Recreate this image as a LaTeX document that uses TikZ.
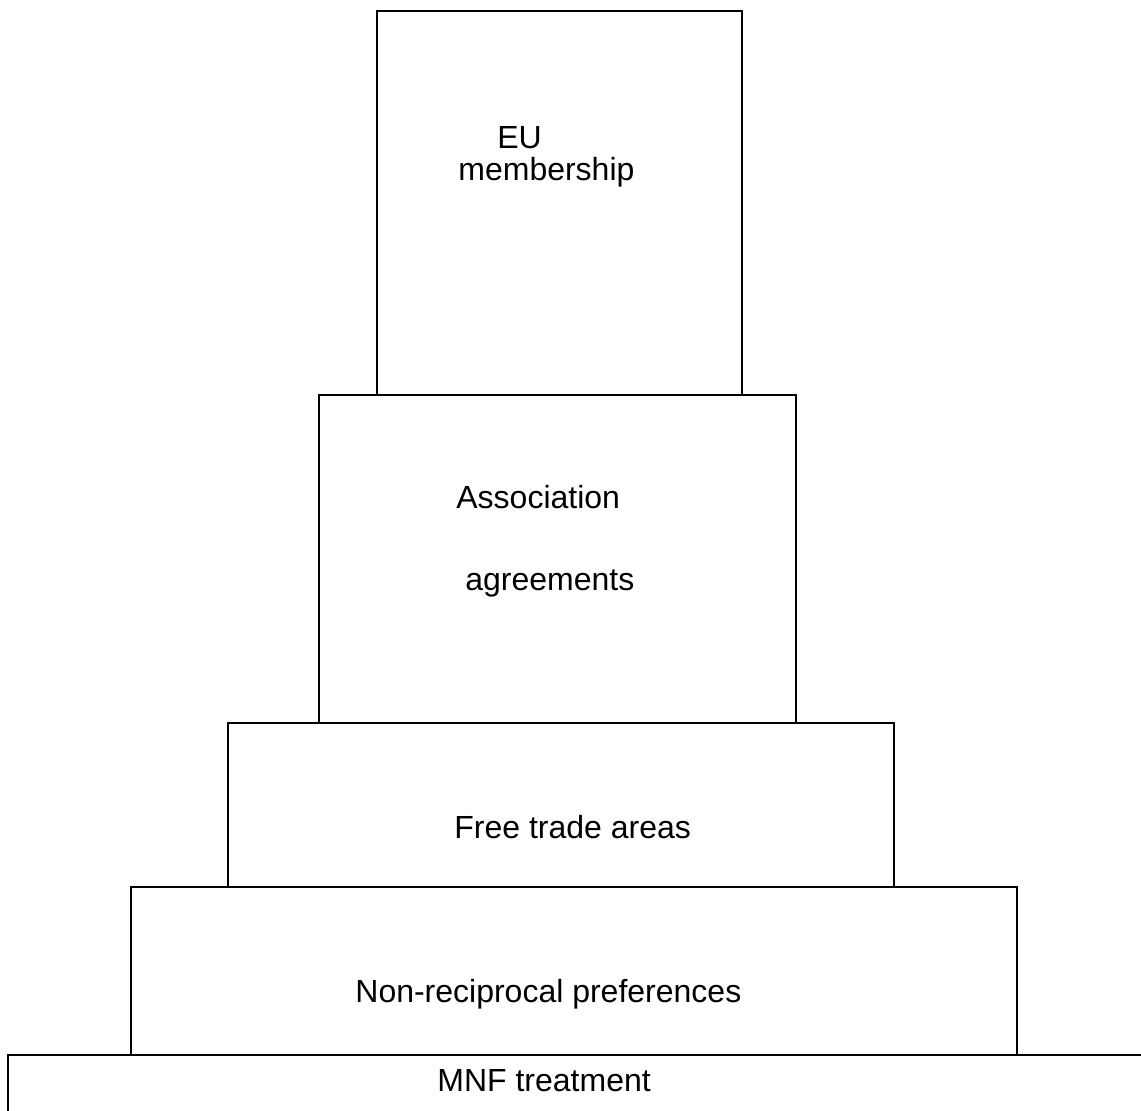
\documentclass[tikz,border=0pt]{standalone}
\usepackage{fontspec}
\setmainfont{Liberation Sans}
\usetikzlibrary{fit}
\usetikzlibrary{positioning}

\tikzset{
  tier/.style={draw,rectangle,line width=1pt,inner sep=0pt},
  tiertext/.style={anchor=base west,inner sep=0pt,font=\fontsize{16}{19}\selectfont}
}

\begin{document}
\begin{tikzpicture}[x=0.5pt,y=-0.5pt]

  \useasboundingbox (0,0) rectangle (1141,1111);
  \clip (0,0) rectangle (1141,1111);

  % corners of the tiers
  \coordinate (eu_nw) at (377,11);    \coordinate (eu_se) at (742,395);
  \coordinate (as_nw) at (319,395);   \coordinate (as_se) at (796,723);
  \coordinate (ft_nw) at (228,723);   \coordinate (ft_se) at (894,887);
  \coordinate (nr_nw) at (131,887);   \coordinate (nr_se) at (1017,1055);
  \coordinate (mf_nw) at (8,1055);    \coordinate (mf_se) at (1160,1130);

  \node [tier,fit=(eu_nw) (eu_se)] (EU) {};
  \node [tier,fit=(as_nw) (as_se)] (AS) {};
  \node [tier,fit=(ft_nw) (ft_se)] (FT) {};
  \node [tier,fit=(nr_nw) (nr_se)] (NR) {};
  \node [tier,fit=(mf_nw) (mf_se)] (MF) {};

  \node [tiertext] (EUlab1) at (497,149) {EU};
  \node [tiertext] (EUlab2) at (458,181) {membership};
  \node [tiertext] (ASlab1) at (456,509) {Association};
  \node [tiertext] (ASlab2) at (465,591) {agreements};
  \node [tiertext] (FTlab)  at (454,839) {Free trade areas};
  \node [tiertext] (NRlab)  at (355,1002) {Non-reciprocal preferences};
  \node [tiertext] (MFlab)  at (437,1091) {MNF treatment};

\end{tikzpicture}
\end{document}
